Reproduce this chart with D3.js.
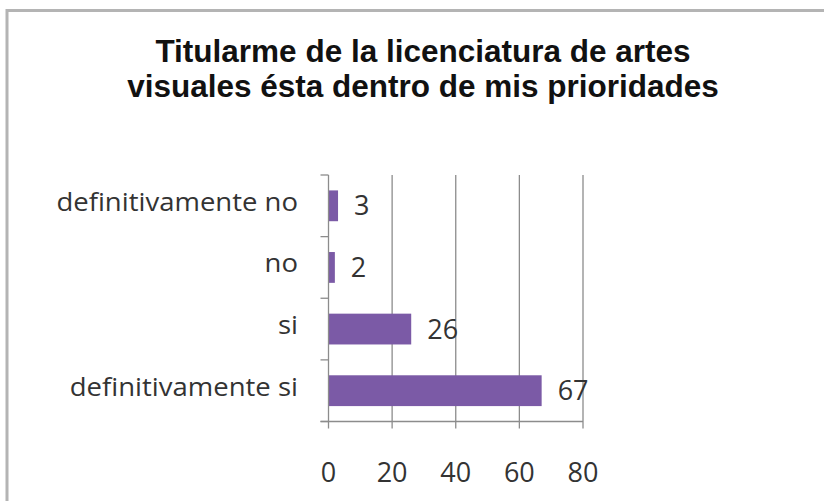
<!DOCTYPE html>
<html>
<head>
<meta charset="utf-8">
<script src="https://cdn.jsdelivr.net/npm/d3@7"></script>
<style>
  body { margin: 0; background: #fff; }
  svg { display: block; }
</style>
</head>
<body>
<svg id="chart" width="824" height="501"></svg>
<script>
// data
var categories = ['definitivamente no', 'no', 'si', 'definitivamente si'];
var values = [3, 2, 26, 67];
var xTicks = [0, 20, 40, 60, 80];
var titleLines = ['Titularme de la licenciatura de artes', 'visuales ésta dentro de mis prioridades'];

var svg = d3.select('#chart');
var labelFont = '"Open Sans", Lato, sans-serif';

// outer frame
svg.append('rect')
    .attr('x', 7).attr('y', 10.5)
    .attr('width', 830).attr('height', 520)
    .attr('fill', 'none')
    .attr('stroke', '#b4b4b4')
    .attr('stroke-width', 3);

// title
svg.selectAll('.title')
    .data(titleLines)
    .join('text')
    .classed('title', true)
    .attr('x', 423)
    .attr('y', (d, i) => 62 + i * 35)
    .attr('text-anchor', 'middle')
    .attr('font-family', '"Liberation Sans", Arial, sans-serif')
    .attr('font-weight', 'bold')
    .attr('font-size', 31.5)
    .attr('fill', '#111')
    .text(d => d);

var plotLeft = 328.5, plotRight = 583, plotTop = 175, plotBottom = 421.5;

var x = d3.scaleLinear().domain([0, 80]).range([plotLeft, plotRight]);
var y = d3.scaleBand().domain(categories).range([plotTop, plotBottom]).paddingInner(0.5).paddingOuter(0.25);

// vertical gridlines
svg.selectAll('.grid')
    .data(xTicks.filter(d => d > 0))
    .join('line')
    .classed('grid', true)
    .attr('x1', d => x(d)).attr('x2', d => x(d))
    .attr('y1', plotTop).attr('y2', plotBottom + 7)
    .attr('stroke', '#8c8c8c')
    .attr('stroke-width', 1.3);

// bars
svg.selectAll('.bar')
    .data(values)
    .join('rect')
    .classed('bar', true)
    .attr('x', x(0))
    .attr('y', (d, i) => y(categories[i]))
    .attr('width', d => x(d) - x(0))
    .attr('height', y.bandwidth())
    .attr('fill', '#7b5aa6');

// y axis
var yAxis = svg.append('g')
    .attr('transform', `translate(${plotLeft},0)`);
yAxis.append('line')
    .attr('x1', 0).attr('x2', 0)
    .attr('y1', plotTop).attr('y2', plotBottom + 7)
    .attr('stroke', '#8c8c8c').attr('stroke-width', 1.3);
var yTickPos = d3.range(categories.length + 1).map(i => plotTop + i * (plotBottom - plotTop) / categories.length);
yAxis.selectAll('.ytick')
    .data(yTickPos)
    .join('line')
    .classed('ytick', true)
    .attr('x1', -8).attr('x2', 0)
    .attr('y1', d => d).attr('y2', d => d)
    .attr('stroke', '#8c8c8c').attr('stroke-width', 1.3);

// x axis line
svg.append('line')
    .attr('x1', plotLeft - 8).attr('x2', plotRight)
    .attr('y1', plotBottom).attr('y2', plotBottom)
    .attr('stroke', '#8c8c8c').attr('stroke-width', 1.3);

// category labels (slightly wide, like the original)
svg.selectAll('.cat')
    .data(categories)
    .join('text')
    .classed('cat', true)
    .attr('x', 298)
    .attr('y', d => y(d) + y.bandwidth() / 2 + 5)
    .attr('text-anchor', 'end')
    .attr('font-family', labelFont)
    .attr('font-size', 25)
    .attr('fill', '#333')
    .text(d => d)
    .each(function() {
        var w = this.getComputedTextLength();
        d3.select(this).attr('textLength', w * 1.1).attr('lengthAdjust', 'spacingAndGlyphs');
    });

// value labels
svg.selectAll('.val')
    .data(values)
    .join('text')
    .classed('val', true)
    .attr('x', d => x(d) + 16)
    .attr('y', (d, i) => y(categories[i]) + y.bandwidth() / 2 + 9.5)
    .attr('font-family', labelFont)
    .attr('font-size', 27)
    .attr('fill', '#333')
    .text(d => d);

// x tick labels
svg.selectAll('.xlab')
    .data(xTicks)
    .join('text')
    .classed('xlab', true)
    .attr('x', d => x(d))
    .attr('y', 482)
    .attr('text-anchor', 'middle')
    .attr('font-family', labelFont)
    .attr('font-size', 27)
    .attr('fill', '#333')
    .text(d => d);
</script>
</body>
</html>
